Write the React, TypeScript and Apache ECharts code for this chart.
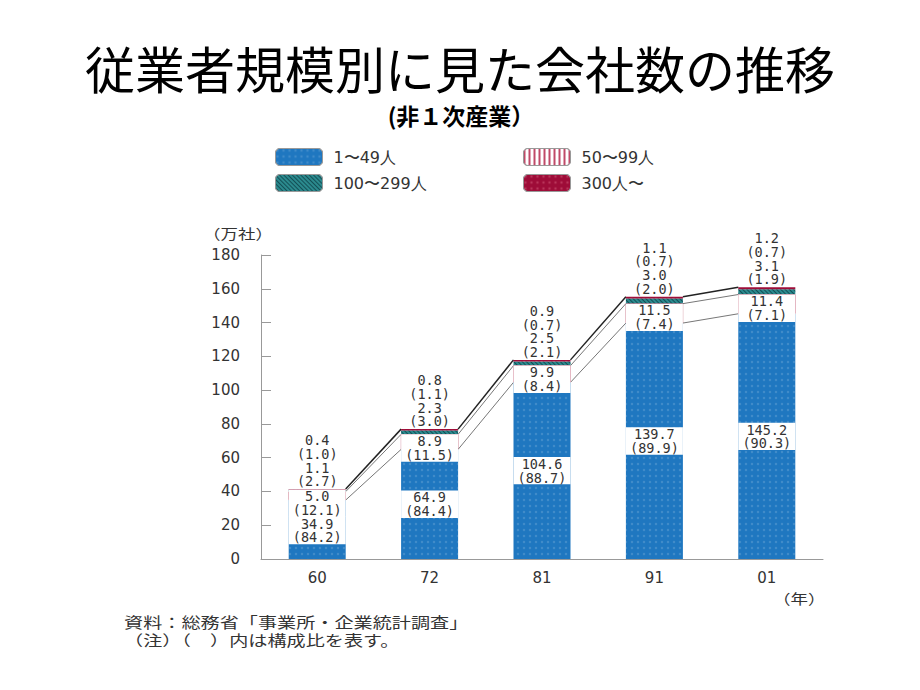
import React, { useEffect, useRef } from "react";
import * as echarts from "echarts";

const categories = ["60", "72", "81", "91", "01"];
const seriesNames = ["1〜49人", "50〜99人", "100〜299人", "300人〜"];
const s1 = [34.9, 64.9, 104.6, 139.7, 145.2];
const s2 = [5.0, 8.9, 9.9, 11.5, 11.4];
const s3 = [1.1, 2.3, 2.5, 3.0, 3.1];
const s4 = [0.4, 0.8, 0.9, 1.1, 1.2];
const p1 = [84.2, 84.4, 88.7, 89.9, 90.3];
const p2 = [12.1, 11.5, 8.4, 7.4, 7.1];
const p3 = [2.7, 3.0, 2.1, 2.0, 1.9];
const p4 = [1.0, 1.1, 0.7, 0.7, 0.7];
const yMin = 0;
const yMax = 180;
const yInterval = 20;

const title = "従業者規模別に見た会社数の推移";
const subtitle = "(非１次産業）";
const yUnit = "（万社）";
const xUnit = "（年）";
const note1 = "資料：総務省「事業所・企業統計調査」";
const note2 = "（注）（　）内は構成比を表す。";

const f1 = (v: number) => v.toFixed(1);

export default function App() {
  const ref = useRef<HTMLDivElement>(null);
  useEffect(() => {
    if (!ref.current) return;
    const chart = echarts.init(ref.current, null, { renderer: "svg" });
    const cum1 = s1.slice();
    const cum2 = s1.map((v, i) => v + s2[i]);
    const tot = s1.map((v, i) => v + s2[i] + s3[i] + s4[i]);
    const barW = 57;
    const numFont = "DejaVu Sans Mono";
    const labelBase = {
      show: true,
      color: "#333",
      fontFamily: numFont,
      fontSize: 13.5,
      lineHeight: 13.7,
    };
    const legendText = { fontSize: 16, color: "#333", fontFamily: "DejaVu Sans", padding: [0, 0, 0, 6] };
    const option: any = {
      animation: false,
      backgroundColor: "#fff",
      grid: { left: 261, right: 97, top: 255, bottom: 131 },
      legend: [
        {
          orient: "vertical",
          left: 275,
          top: 148,
          padding: 0,
          itemWidth: 47,
          itemHeight: 17,
          itemGap: 8,
          data: [seriesNames[0], seriesNames[2]],
          textStyle: legendText,
          itemStyle: { borderColor: "#999", borderWidth: 1 },
          selectedMode: false,
        },
        {
          orient: "vertical",
          left: 523,
          top: 148,
          padding: 0,
          itemWidth: 47,
          itemHeight: 17,
          itemGap: 8,
          data: [seriesNames[1], seriesNames[3]],
          textStyle: legendText,
          itemStyle: { borderColor: "#999", borderWidth: 1 },
          selectedMode: false,
        },
      ],
      xAxis: {
        type: "category",
        data: categories,
        axisLine: { lineStyle: { color: "#999" } },
        axisTick: { inside: true, length: 5, lineStyle: { color: "#999" } },
        axisLabel: { color: "#333", fontSize: 15, fontFamily: "DejaVu Sans", margin: 11 },
      },
      yAxis: {
        type: "value",
        min: yMin,
        max: yMax,
        interval: yInterval,
        axisLine: { show: true, lineStyle: { color: "#999" } },
        axisTick: { show: true, inside: true, length: 10, lineStyle: { color: "#999" } },
        axisLabel: { color: "#333", fontSize: 15, fontFamily: "DejaVu Sans", margin: 21 },
        splitLine: { show: false },
      },
      graphic: [
        {
          type: "text",
          x: 460,
          y: 67,
          style: {
            text: title,
            fontSize: 50,
            lineHeight: 50,
            fontFamily: "Noto Sans CJK JP",
            fill: "#000",
            align: "center",
            verticalAlign: "middle",
          },
        },
        {
          type: "text",
          x: 461,
          y: 115,
          style: {
            text: subtitle,
            fontSize: 23,
            lineHeight: 23,
            fontWeight: "bold",
            fontFamily: "Noto Sans CJK JP",
            fill: "#000",
            align: "center",
            verticalAlign: "middle",
          },
        },
        {
          type: "text",
          x: 203,
          y: 233,
          scaleX: 1.25,
          style: { text: yUnit, fontSize: 14, fontFamily: "Noto Sans CJK JP", fill: "#333", verticalAlign: "middle" },
        },
        {
          type: "text",
          x: 773,
          y: 598,
          scaleX: 1.25,
          style: { text: xUnit, fontSize: 14, fontFamily: "Noto Sans CJK JP", fill: "#333", verticalAlign: "middle" },
        },
        {
          type: "text",
          x: 124,
          y: 622,
          scaleX: 1.32,
          style: { text: note1, fontSize: 14.5, fontFamily: "Noto Sans CJK JP", fill: "#333", verticalAlign: "middle" },
        },
        {
          type: "text",
          x: 124,
          y: 640,
          scaleX: 1.32,
          style: { text: note2, fontSize: 14.5, fontFamily: "Noto Sans CJK JP", fill: "#333", verticalAlign: "middle" },
        },
      ],
      series: [
        {
          name: seriesNames[0],
          type: "bar",
          stack: "total",
          barWidth: barW,
          data: s1.map((v, i) => (i === 0 ? { value: v, label: { offset: [0, 1] } } : v)),
          itemStyle: {
            color: "#1f77c0",
            decal: {
              color: "rgba(255,255,255,0.16)",
              symbol: "circle",
              symbolSize: 0.6,
              dashArrayX: [4, 2],
              dashArrayY: [4, 2],
            },
          },
          label: {
            ...labelBase,
            position: "inside",
            backgroundColor: "#fff",
            width: barW,
            align: "center",
            padding: [0, 0],
            formatter: (p: any) => `${f1(s1[p.dataIndex])}\n(${f1(p1[p.dataIndex])})`,
          },
          z: 2,
        },
        {
          name: seriesNames[1],
          type: "bar",
          stack: "total",
          barWidth: barW,
          data: s2.map((v, i) => (i === 0 ? { value: v, label: { offset: [0, -2] } } : v)),
          itemStyle: {
            color: "#ffffff",
            borderColor: "#b03050",
            borderWidth: 0.5,
            decal: {
              color: "#c04a68",
              symbol: "rect",
              symbolSize: 1,
              dashArrayX: [2, 3],
              dashArrayY: [10, 0],
            },
          },
          label: {
            ...labelBase,
            position: "insideTop",
            distance: 0,
            backgroundColor: "#fff",
            width: barW,
            align: "center",
            padding: [0, 0],
            formatter: (p: any) => `${f1(s2[p.dataIndex])}\n(${f1(p2[p.dataIndex])})`,
          },
          z: 3,
        },
        {
          name: seriesNames[2],
          type: "bar",
          stack: "total",
          barWidth: barW,
          data: s3,
          itemStyle: {
            color: "#2b8a8e",
            decal: {
              color: "rgba(0,30,40,0.55)",
              symbol: "rect",
              symbolSize: 1,
              dashArrayX: [1, 0],
              dashArrayY: [1, 2],
              rotation: Math.PI / 4,
            },
          },
          label: { show: false },
          z: 2,
        },
        {
          name: seriesNames[3],
          type: "bar",
          stack: "total",
          barWidth: barW,
          data: s4,
          itemStyle: {
            color: "#9e0c38",
            decal: {
              color: "rgba(255,160,180,0.3)",
              symbol: "circle",
              symbolSize: 0.6,
              dashArrayX: [4, 2],
              dashArrayY: [4, 2],
            },
          },
          label: {
            ...labelBase,
            position: "top",
            distance: 1,
            formatter: (p: any) => {
              const i = p.dataIndex;
              return `${f1(s4[i])}\n(${f1(p4[i])})\n${f1(s3[i])}\n(${f1(p3[i])})`;
            },
          },
          z: 2,
        },
        {
          type: "custom",
          data: categories.slice(0, categories.length - 1).map((_, i) => [i, tot[i]]),
          encode: { x: 0, y: 1 },
          silent: true,
          z: 1,
          renderItem: (params: any, api: any) => {
            const i = params.dataIndex;
            const hw = barW / 2;
            const defs: [number, number, string, number][] = [
              [cum1[i], cum1[i + 1], "#777", 1],
              [cum2[i], cum2[i + 1], "#777", 1],
              [tot[i], tot[i + 1], "#222", 1.5],
            ];
            return {
              type: "group",
              children: defs.map(([a, b, c, lw]) => {
                const pa = api.coord([i, a]);
                const pb = api.coord([i + 1, b]);
                return {
                  type: "line",
                  shape: { x1: pa[0] + hw, y1: pa[1], x2: pb[0] - hw, y2: pb[1] },
                  style: { stroke: c, lineWidth: lw },
                };
              }),
            };
          },
        },
      ],
    };
    chart.setOption(option);
    return () => chart.dispose();
  }, []);
  return (
    <div
      ref={ref}
      style={{ position: "fixed", left: 0, top: 0, width: 920, height: 690, background: "#fff" }}
    />
  );
}
